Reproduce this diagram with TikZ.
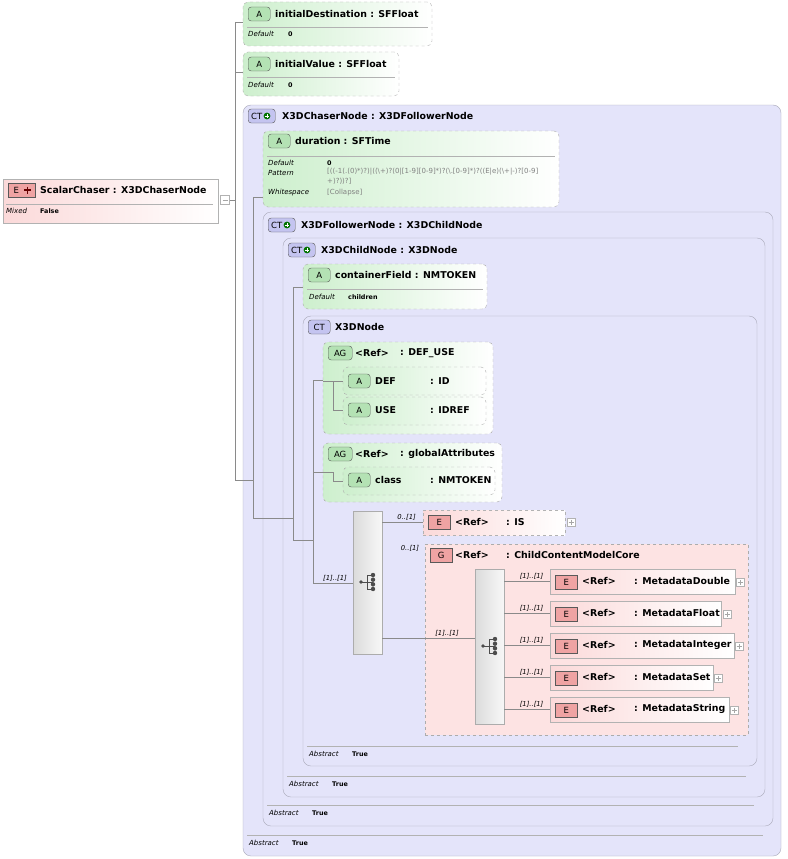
\documentclass[tikz,border=0pt]{standalone}
\usepackage{fontspec}
\setmainfont{DejaVu Sans}
\definecolor{ctfill}{HTML}{E4E4FA}
\definecolor{ctdraw}{HTML}{A8A8B8}
\definecolor{agreen}{HTML}{CDEFCD}
\definecolor{bgreen}{HTML}{B4E2B4}
\definecolor{bblue}{HTML}{C4C4F0}
\definecolor{bred}{HTML}{EFA3A3}
\definecolor{epink}{HTML}{FBD9D9}
\definecolor{gpink}{HTML}{FDE3E3}
\definecolor{lineg}{HTML}{8A8A8A}
\newcommand\bx[6]{\node[#2, anchor=north west, minimum width=#5, minimum height=#6, inner sep=0, outer sep=0] (#1) at (#3,#4) {};}
\newcommand\plusbox[3]{\node[draw=gray!60, fill=white, minimum size=8, inner sep=0] (#1) at (#2,#3) {}; \draw[gray!70] ([xshift=-2.5]#1.center)--([xshift=2.5]#1.center) ([yshift=-2.5]#1.center)--([yshift=2.5]#1.center);}
\newcommand\ctplus[2]{\fill[green!45!black] (#1,#2) circle (3.4); \draw[white,line width=1] (#1-2.2,#2)--(#1+2.2,#2) (#1,#2-2.2)--(#1,#2+2.2);}
\newcommand\seqicon[3]{\coordinate (#1) at (#2,#3);
 \fill[black!70] ([xshift=-7]#1) circle (1.8);
 \draw[black!70,line width=0.8] ([xshift=-7]#1)--([xshift=-1]#1) ([xshift=-1,yshift=-7]#1)--([xshift=-1,yshift=7]#1)
  ([xshift=-1,yshift=-7]#1)--([xshift=5,yshift=-7]#1) ([xshift=-1]#1)--([xshift=5]#1) ([xshift=-1,yshift=7]#1)--([xshift=5,yshift=7]#1);
 \fill[black!70] ([xshift=5,yshift=-7]#1) circle (2.2) ([xshift=5,yshift=-2.3]#1) circle (2.2) ([xshift=5,yshift=2.3]#1) circle (2.2) ([xshift=5,yshift=7]#1) circle (2.2);}
\begin{document}
\begin{tikzpicture}[x=1pt,y=-1pt,
 attr/.style={draw=gray!65, dashed, rounded corners=5, left color=agreen, right color=white},
 ct/.style={draw=ctdraw, fill=ctfill, rounded corners=8},
 elem/.style={draw=gray!60, left color=epink, right color=white},
 elemd/.style={draw=gray!60, dashed, left color=epink, right color=white},
 grp/.style={draw=gray!65, dashed, fill=gpink},
 seq/.style={draw=gray!65, left color=gray!28, right color=gray!6},
 badge/.style={draw=black!65, rounded corners=3, minimum width=22, minimum height=14, inner sep=0, anchor=west, font=\fontsize{8.5}{9}\selectfont},
 bA/.style={badge, fill=bgreen}, bCT/.style={badge, fill=bblue}, bE/.style={badge, fill=bred, rounded corners=0},
 title/.style={anchor=west, inner sep=0, font=\bfseries\fontsize{9.4}{10}\selectfont},
 lab/.style={anchor=west, inner sep=0, font=\itshape\fontsize{7}{8}\selectfont},
 val/.style={anchor=west, inner sep=0, font=\bfseries\fontsize{6.4}{8}\selectfont},
 gval/.style={anchor=west, inner sep=0, text=gray, font=\fontsize{7}{10}\selectfont, align=left},
 mult/.style={anchor=south, inner sep=1, font=\itshape\fontsize{6.8}{8}\selectfont},
 conn/.style={draw=lineg, line width=0.6},
 sep/.style={draw=gray!60, line width=0.5}]
\useasboundingbox (0,0) rectangle (787,859);
\fill[white] (0,0) rectangle (787,859);
% containers
\bx{chaser}{ct}{243}{105}{538}{751}
\bx{follower}{ct}{263}{212}{510}{614}
\bx{child}{ct}{283}{238}{482}{559}
\bx{x3dnode}{ct}{303}{316}{454}{450}
% abstract lines
\draw[sep] (247,835)--(763,835) (267,805)--(754,805) (287,776)--(746,776) (307,746)--(738,746);
\node[lab] (abs1) at (249,843) {Abstract}; \node[val] (abv1) at (292,843) {True};
\node[lab] (abs2) at (269,813) {Abstract}; \node[val] (abv2) at (312,813) {True};
\node[lab] (abs3) at (289,784) {Abstract}; \node[val] (abv3) at (332,784) {True};
\node[lab] (abs4) at (309,754) {Abstract}; \node[val] (abv4) at (352,754) {True};
% CT titles
\node[bCT, minimum width=27] (bct1) at (248,116) {CT\kern10pt}; \ctplus{267}{116}
\node[title] (t1) at (282,116) {X3DChaserNode : X3DFollowerNode};
\node[bCT, minimum width=27] (bct2) at (268,225) {CT\kern10pt}; \ctplus{287}{225}
\node[title] (t2) at (301,225) {X3DFollowerNode : X3DChildNode};
\node[bCT, minimum width=27] (bct3) at (288,250) {CT\kern10pt}; \ctplus{307}{250}
\node[title] (t3) at (321,250) {X3DChildNode : X3DNode};
\node[bCT] (bct4) at (308,327) {CT};
\node[title] (t4) at (335,327) {X3DNode};
% root element
\bx{root}{elem}{3}{179}{215}{44}
\node[bE, minimum width=27] (bE0) at (8,190) {E\kern11pt}; \draw[red!40!black,line width=1.2] (24,190)--(31,190) (27.5,186.5)--(27.5,193.5);
\node[title] (t0) at (40,190) {ScalarChaser : X3DChaserNode};
\draw[sep] (6,204)--(213,204);
\node[lab] (m0) at (6,211) {Mixed}; \node[val] (mv0) at (40,211) {False};
\node[draw=gray!60, fill=white, minimum size=9, inner sep=0] (minus) at (225,200) {}; \draw[gray!70] (222.5,200)--(227.5,200);
% attributes
\bx{iD}{attr}{243}{2}{189}{44}
\node[bA] (bA1) at (248,14) {A}; \node[title] (ta1) at (275,14) {initialDestination : SFFloat};
\draw[sep] (247,27)--(428,27); \node[lab] (d1) at (248,34) {Default}; \node[val] (dv1) at (288,34) {0};
\bx{iV}{attr}{243}{52}{156}{44}
\node[bA] (bA2) at (248,64) {A}; \node[title] (ta2) at (275,64) {initialValue : SFFloat};
\draw[sep] (247,77)--(395,77); \node[lab] (d2) at (248,85) {Default}; \node[val] (dv2) at (288,85) {0};
\bx{dur}{attr}{263}{131}{296}{76}
\node[bA] (bA3) at (268,141) {A}; \node[title] (ta3) at (295,141) {duration : SFTime};
\draw[sep] (267,156)--(555,156);
\node[lab] (d3) at (268,163) {Default}; \node[val] (dv3) at (327,163) {0};
\node[lab] (p3) at (268,173) {Pattern};
\node[gval, anchor=north west] (pv3) at (327,168) {[((-1(.(0)*)?)|((\textbackslash+)?(0|[1-9][0-9]*)?(\textbackslash.[0-9]*)?((E|e)(\textbackslash+|-)?[0-9]\\+)?))?]};
\node[lab] (w3) at (268,193) {Whitespace}; \node[gval] (wv3) at (327,193) {[Collapse]};
\bx{cF}{attr}{303}{264}{184}{45}
\node[bA] (bA4) at (308,275) {A}; \node[title] (ta4) at (335,275) {containerField : NMTOKEN};
\draw[sep] (307,289)--(483,289); \node[lab] (d4) at (309,297) {Default}; \node[val] (dv4) at (348,297) {children};
% attribute groups
\bx{ag1}{attr}{323}{342}{170}{92}
\node[bA, minimum width=24] (bAG1) at (328,353) {AG}; \node[title] (tg1) at (355,353) {<Ref>}; \node[title] (tg1b) at (400,353) {: DEF\_USE};
\bx{def}{attr}{343}{367}{143}{28}
\node[bA] (bA5) at (348,381) {A}; \node[title] (ta5) at (375,381) {DEF}; \node[title] (ta5b) at (430,381) {: ID};
\bx{use}{attr}{343}{397}{143}{28}
\node[bA] (bA6) at (348,410) {A}; \node[title] (ta6) at (375,410) {USE}; \node[title] (ta6b) at (430,410) {: IDREF};
\bx{ag2}{attr}{323}{443}{179}{59}
\node[bA, minimum width=24] (bAG2) at (328,454) {AG}; \node[title] (tg2) at (355,454) {<Ref>}; \node[title] (tg2b) at (400,454) {: globalAttributes};
\bx{cls}{attr}{343}{467}{152}{28}
\node[bA] (bA7) at (348,480) {A}; \node[title] (ta7) at (375,480) {class}; \node[title] (ta7b) at (430,480) {: NMTOKEN};
% sequences and elements
\bx{seq1}{seq}{353}{511}{29}{143}
\seqicon{ic1}{368}{582}
\bx{is}{elemd}{423}{510}{142}{25}
\node[bE] (bE1) at (428,522) {E}; \node[title] (te1) at (455,522) {<Ref>}; \node[title] (te1b) at (506,522) {: IS};
\plusbox{p1}{571}{522}
\bx{grp}{grp}{425}{544}{323}{191}
\node[bE] (bG) at (430,555) {G}; \node[title] (tG) at (455,555) {<Ref>}; \node[title] (tGb) at (506,555) {: ChildContentModelCore};
\bx{seq2}{seq}{475}{569}{29}{155}
\seqicon{ic2}{490}{646}
\bx{md}{elem}{550}{569}{185}{25}
\bx{mf}{elem}{550}{601}{171}{25}
\bx{mi}{elem}{550}{633}{184}{25}
\bx{ms}{elem}{550}{665}{163}{25}
\bx{mstr}{elem}{550}{697}{179}{25}
\node[bE] (bEa) at (555,582) {E}; \node[title] (tea) at (582,581) {<Ref>}; \node[title] (teab) at (634,581) {: MetadataDouble}; \plusbox{pa}{740}{582}
\node[bE] (bEb) at (555,614) {E}; \node[title] (teb) at (582,613) {<Ref>}; \node[title] (tebb) at (634,613) {: MetadataFloat}; \plusbox{pb}{727}{614}
\node[bE] (bEc) at (555,646) {E}; \node[title] (tec) at (582,645) {<Ref>}; \node[title] (tecb) at (634,645) {: MetadataInteger}; \plusbox{pc}{739}{646}
\node[bE] (bEd) at (555,678) {E}; \node[title] (ted) at (582,677) {<Ref>}; \node[title] (tedb) at (634,677) {: MetadataSet}; \plusbox{pd}{718}{678}
\node[bE] (bEe) at (555,710) {E}; \node[title] (tee) at (582,709) {<Ref>}; \node[title] (teeb) at (634,709) {: MetadataString}; \plusbox{pe}{734}{710}
% connectors
\draw[conn] (minus.east)--(235,200);
\draw[conn] (235,22)--(235,480);
\draw[conn] (235,22)--(iD.west|-0,22);
\draw[conn] (235,72)--(iV.west|-0,72);
\draw[conn] (235,480)--(253,480);
\draw[conn] (253,197)--(253,518);
\draw[conn] (253,197)--(dur.west|-0,197);
\draw[conn] (253,518)--(293,518);
\draw[conn] (293,287)--(293,540);
\draw[conn] (293,287)--(cF.west|-0,287);
\draw[conn] (293,540)--(313,540);
\draw[conn] (313,380)--(313,583);
\draw[conn] (313,380)--(ag1.west|-0,380);
\draw[conn] (313,472)--(ag2.west|-0,472);
\draw[conn] (313,583)--(seq1.west|-0,583) node[mult, pos=0.55] (mu0) {[1]..[1]};
\draw[conn] (323,381)--(333,381)--(333,410)--(use.west|-0,410) (333,381)--(def.west|-0,381);
\draw[conn] (323,472)--(333,472)--(333,481)--(cls.west|-0,481);
\draw[conn] (seq1.east|-0,522)--(is.west|-0,522) node[mult, pos=0.6] (mu1) {0..[1]};
\node[mult] (mu2) at (410,553) {0..[1]};
\draw[conn] (seq1.east|-0,638)--(seq2.west|-0,638) node[mult, pos=0.7] (mu3) {[1]..[1]};
\draw[conn] (seq2.east|-0,581)--(md.west|-0,581) node[mult, pos=0.6] {[1]..[1]};
\draw[conn] (seq2.east|-0,613)--(mf.west|-0,613) node[mult, pos=0.6] {[1]..[1]};
\draw[conn] (seq2.east|-0,645)--(mi.west|-0,645) node[mult, pos=0.6] {[1]..[1]};
\draw[conn] (seq2.east|-0,677)--(ms.west|-0,677) node[mult, pos=0.6] {[1]..[1]};
\draw[conn] (seq2.east|-0,709)--(mstr.west|-0,709) node[mult, pos=0.6] {[1]..[1]};
\end{tikzpicture}
\end{document}
